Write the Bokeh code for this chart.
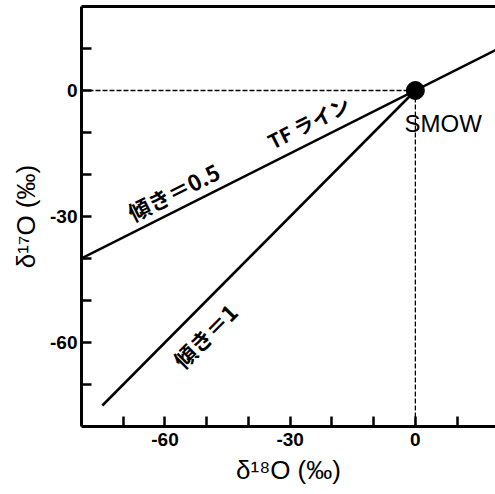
import math
from bokeh.plotting import figure
from bokeh.models import Range1d, FixedTicker, LinearAxis, Label
from bokeh.embed import file_html
from bokeh.resources import INLINE

# ---- data ----
tf_x = [-80, 20]          # TF line (slope 0.5)
tf_y = [-40, 10]
one_x = [-75, 0]          # slope 1 line
one_y = [-75, 0]
smow_x = [0]
smow_y = [0]
ref_h_x = [-80, 0]        # horizontal guide at δ17O = 0
ref_h_y = [0, 0]
ref_v_x = [0, 0]          # vertical guide at δ18O = 0
ref_v_y = [0, -80]
x_ticks = [-70, -60, -50, -40, -30, -20, -10, 0, 10]
y_ticks = [-70, -60, -50, -40, -30, -20, -10, 0, 10]
labelled_ticks = [-60, -30, 0]

X0, X1 = -80, 19.2
Y0, Y1 = -80, 20
FW, FH = 414, 420

p = figure(width=495, height=494, output_backend="svg", toolbar_location=None,
           x_range=Range1d(X0, X1), y_range=Range1d(Y0, Y1),
           frame_width=FW, frame_height=FH,
           min_border_left=81, min_border_top=6, min_border_right=0,
           min_border_bottom=68, x_axis_location="below", y_axis_location="left")
p.xgrid.visible = False
p.ygrid.visible = False
p.outline_line_color = None
p.background_fill_color = "white"
p.border_fill_color = "white"

# guides
p.line(ref_h_x, ref_h_y, line_color="black", line_width=1.3, line_dash="5 2")
p.line(ref_v_x, ref_v_y, line_color="black", line_width=1.3, line_dash="5 2")
# lines
p.line(tf_x, tf_y, line_color="black", line_width=2.5)
p.line(one_x, one_y, line_color="black", line_width=2.5)
p.scatter(smow_x, smow_y, size=18, color="black")

# axes styling
for ax, ticks in ((p.xaxis[0], x_ticks), (p.yaxis[0], y_ticks)):
    ax.ticker = FixedTicker(ticks=ticks)
    ax.major_label_overrides = {t: (str(t) if t in labelled_ticks else "") for t in ticks}
    ax.minor_tick_line_color = None
    ax.major_tick_in = 10
    ax.major_tick_out = 0
    ax.major_tick_line_width = 2.5
    ax.axis_line_width = 3
    ax.major_label_text_font = "Liberation Sans"
    ax.major_label_text_font_size = "19px"
    ax.major_label_text_font_style = "bold"
    ax.axis_label_text_font = "Liberation Sans"
    ax.axis_label_text_font_size = "26px"
    ax.axis_label_text_font_style = "normal"
    ax.major_label_text_color = "black"
    ax.axis_label_text_color = "black"

p.xaxis.axis_label = "δ¹⁸O (‰)"
p.yaxis.axis_label = "δ¹⁷O (‰)"
p.xaxis.major_label_standoff = 6
p.xaxis.axis_label_standoff = 6
p.yaxis.major_label_standoff = 4
p.yaxis.axis_label_standoff = 6

top = LinearAxis(ticker=FixedTicker(ticks=[]), axis_line_width=3,
                 major_tick_in=0, major_tick_out=0, minor_tick_in=0, minor_tick_out=0,
                 major_label_text_font_size="0px", major_label_standoff=0)
p.add_layout(top, "above")

# text annotations
sx = FW / (X1 - X0)
sy = FH / (Y1 - Y0)
ang_half = math.atan(0.5 * sy / sx)
ang_one = math.atan(1.0 * sy / sx)
jp = "Noto Sans CJK JP"
p.add_layout(Label(x=-58, y=-24, text="傾き＝0.5", angle=ang_half,
                   text_align="center", text_baseline="middle", text_color="black",
                   text_font=jp, text_font_size="22px", text_font_style="bold"))
p.add_layout(Label(x=-25.6, y=-7.6, text="TF ライン", angle=ang_half,
                   text_align="center", text_baseline="middle", text_color="black",
                   text_font=jp, text_font_size="20px", text_font_style="bold"))
p.add_layout(Label(x=-50.5, y=-58.3, text="傾き＝1", angle=ang_one,
                   text_align="center", text_baseline="middle", text_color="black",
                   text_font=jp, text_font_size="22px", text_font_style="bold"))
p.add_layout(Label(x=-2.6, y=-7.9, text="SMOW",
                   text_align="left", text_baseline="middle", text_color="black",
                   text_font="Liberation Sans", text_font_size="24px"))

open("out.html", "w").write(file_html(p, INLINE))
